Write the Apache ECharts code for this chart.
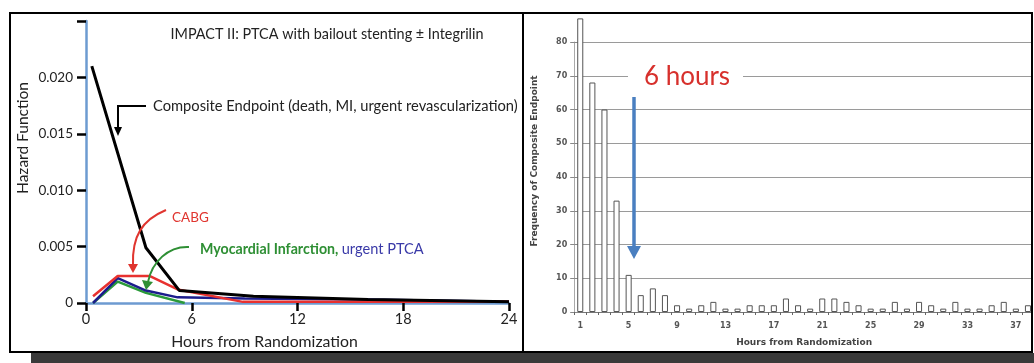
<!DOCTYPE html>
<html><head><meta charset="utf-8">
<script src="https://cdn.jsdelivr.net/npm/echarts@6/dist/echarts.min.js"></script>
<style>html,body{margin:0;padding:0;background:#fff}#c{width:1034px;height:363px}</style>
</head><body><div id="c"></div>
<script>
// ---- Left panel: hazard function curves ----
const compositeHours  = [0.33, 3.4, 5.3, 9.5, 16, 24];
const compositeHazard = [0.021, 0.0049, 0.0011, 0.0006, 0.0003, 0.0001];
const cabgHours  = [0.4, 1.8, 3.6, 5.2, 8.9, 24];
const cabgHazard = [0.0006, 0.0024, 0.0024, 0.0012, 0.0001, 0.0001];
const miHours  = [0.4, 1.8, 3.4, 5.6];
const miHazard = [0, 0.0019, 0.0009, 0];
const ptcaHours  = [0.4, 1.8, 3.4, 5.2, 9, 16, 24];
const ptcaHazard = [0, 0.0022, 0.0011, 0.0005, 0.0004, 0.0003, 0.0001];

// ---- Right panel: frequency histogram ----
const freqHours = ['1','2','3','4','5','6','7','8','9','10','11','12','13','14','15','16','17','18','19','20',
  '21','22','23','24','25','26','27','28','29','30','31','32','33','34','35','36','37','38'];
const freqCounts = [87,68,60,33,11,5,7,5,2,1,2,3,1,1,2,2,2,4,2,1,4,4,3,2,1,1,3,1,3,2,1,3,1,1,2,3,1,2];

const pairs = (xs, ys) => xs.map((x, i) => [x, ys[i]]);
const chart = echarts.init(document.getElementById('c'), null, {renderer: 'canvas'});

const smallFont = 'DejaVu Sans';
const option = {
  animation: false,
  backgroundColor: '#fff',
  title: {
    text: 'IMPACT II: PTCA with bailout stenting \u00B1 Integrilin',
    left: 327, top: 27, textAlign: 'center', padding: 0,
    textStyle: {fontSize: 14.4, fontWeight: 'normal', fontFamily: 'Lato', color: '#222'}
  },
  grid: [
    {left: 86, top: 21, width: 423, height: 282},
    {left: 574.2, top: 42, width: 460.6, height: 270}
  ],
  xAxis: [
    {
      type: 'value', gridIndex: 0, min: 0, max: 24, interval: 6,
      axisLine: {show: true, lineStyle: {color: '#6d9bd1', width: 2.5}},
      axisTick: {show: true, length: 8, lineStyle: {color: '#000', width: 2.5}},
      axisLabel: {fontSize: 14.5, color: '#222', fontFamily: 'Lato', margin: 9},
      splitLine: {show: false},
      name: 'Hours from Randomization', nameLocation: 'middle', nameGap: 31,
      nameTextStyle: {fontSize: 15.8, color: '#222', fontFamily: 'Lato', padding: [0, 66, 0, 0]}
    },
    {
      type: 'category', gridIndex: 1, data: freqHours,
      axisLine: {show: true, lineStyle: {color: '#777', width: 1}},
      axisTick: {show: true, interval: 0, length: 3, lineStyle: {color: '#666'}},
      axisLabel: {interval: 3, fontSize: 8, fontWeight: 'bold', color: '#555', fontFamily: smallFont, margin: 10},
      splitLine: {show: false},
      name: 'Hours from Randomization', nameLocation: 'middle', nameGap: 26,
      nameTextStyle: {fontSize: 9, fontWeight: 'bold', color: '#444', fontFamily: smallFont}
    },
    {
      type: 'category', gridIndex: 1, data: freqHours,
      axisLine: {show: false},
      axisTick: {show: true, inside: true, interval: 0, length: 3, lineStyle: {color: '#666'}},
      axisLabel: {show: false}, splitLine: {show: false}
    }
  ],
  yAxis: [
    {
      type: 'value', gridIndex: 0, min: 0, max: 0.025, interval: 0.005,
      axisLine: {show: true, lineStyle: {color: '#6d9bd1', width: 2.5}},
      axisTick: {show: true, length: 9, lineStyle: {color: '#000', width: 2.5}},
      axisLabel: {
        fontSize: 13.5, color: '#222', fontFamily: 'Lato', margin: 13,
        formatter: v => v === 0 ? '0' : (v > 0.0249 ? '' : v.toFixed(3))
      },
      splitLine: {show: false},
      name: 'Hazard Function', nameLocation: 'middle', nameGap: 55,
      nameTextStyle: {fontSize: 15.5, color: '#222', fontFamily: 'Lato', padding: [0, 0, 0, 48]}
    },
    {
      type: 'value', gridIndex: 1, min: 0, max: 80, interval: 10,
      axisLine: {show: true, lineStyle: {color: '#aaa', width: 1}},
      axisTick: {show: true, length: 4, lineStyle: {color: '#888'}},
      axisLabel: {fontSize: 8, fontWeight: 'bold', color: '#555', fontFamily: smallFont, margin: 7},
      splitLine: {show: true, lineStyle: {color: '#9a9a9a', width: 1}},
      name: 'Frequency of Composite Endpoint', nameLocation: 'middle', nameGap: 35,
      nameTextStyle: {fontSize: 9, fontWeight: 'bold', color: '#444', fontFamily: smallFont, padding: [0, 0, 0, 32]}
    },
    {
      type: 'value', gridIndex: 1, min: 0, max: 80, interval: 10, position: 'left',
      axisLine: {show: false},
      axisTick: {show: true, inside: true, length: 4, lineStyle: {color: '#888'}},
      axisLabel: {show: false}, splitLine: {show: false}
    }
  ],
  series: [
    {type: 'line', name: 'Myocardial Infarction', xAxisIndex: 0, yAxisIndex: 0, data: pairs(miHours, miHazard),
      showSymbol: false, lineStyle: {color: '#2a9a3a', width: 2.5}, itemStyle: {color: '#2a9a3a'}, z: 3},
    {type: 'line', name: 'urgent PTCA', xAxisIndex: 0, yAxisIndex: 0, data: pairs(ptcaHours, ptcaHazard),
      showSymbol: false, lineStyle: {color: '#1c1c8c', width: 2.5}, itemStyle: {color: '#1c1c8c'}, z: 4},
    {type: 'line', name: 'CABG', xAxisIndex: 0, yAxisIndex: 0, data: pairs(cabgHours, cabgHazard),
      showSymbol: false, lineStyle: {color: '#e8312f', width: 2.5}, itemStyle: {color: '#e8312f'}, z: 5},
    {type: 'line', name: 'Composite Endpoint', xAxisIndex: 0, yAxisIndex: 0, data: pairs(compositeHours, compositeHazard),
      showSymbol: false, lineStyle: {color: '#000', width: 3}, itemStyle: {color: '#000'}, z: 6},
    {type: 'bar', name: 'Frequency', xAxisIndex: 1, yAxisIndex: 1, data: freqCounts, barWidth: '50%', clip: false,
      itemStyle: {color: '#fff', borderColor: '#555', borderWidth: 1}}
  ],
  graphic: [
    // panel frames and bottom band
    {type: 'rect', z: 100, shape: {x: 1033, y: 0, width: 3, height: 353}, style: {fill: '#fff'}},
    {type: 'rect', z: 101, shape: {x: 10, y: 13, width: 1022, height: 339}, style: {fill: null, stroke: '#000', lineWidth: 2}},
    {type: 'line', z: 101, shape: {x1: 523, y1: 13, x2: 523, y2: 352}, style: {stroke: '#000', lineWidth: 2}},
    {type: 'rect', z: 101, shape: {x: 31, y: 353, width: 1003, height: 10}, style: {fill: '#3a3a3a'}},
    // left panel annotations
    {type: 'text', z: 50, style: {text: 'Composite Endpoint (death, MI, urgent revascularization)', x: 153, y: 106,
      font: '14.7px Lato', fill: '#222', verticalAlign: 'middle'}},
    {type: 'polyline', z: 50, shape: {points: [[146, 106], [118, 106], [118, 128]]}, style: {stroke: '#000', lineWidth: 2, fill: null}},
    {type: 'polygon', z: 50, shape: {points: [[114, 127], [122, 127], [118, 136]]}, style: {fill: '#000'}},
    {type: 'text', z: 50, style: {text: 'CABG', x: 172, y: 218, font: '13.5px Lato', fill: '#e0352f', verticalAlign: 'middle'}},
    {type: 'bezierCurve', z: 50, shape: {x1: 166, y1: 210, cpx1: 142, cpy1: 220, cpx2: 132, cpy2: 236, x2: 133, y2: 265},
      style: {stroke: '#e0352f', lineWidth: 2, fill: null}},
    {type: 'polygon', z: 50, shape: {points: [[128, 264], [138, 264], [133, 273]]}, style: {fill: '#e0352f'}},
    {type: 'text', z: 50, style: {text: '{g|Myocardial Infarction,} {b|urgent PTCA}', x: 200, y: 249, verticalAlign: 'middle',
      rich: {g: {fill: '#2e8f34', fontSize: 14.2, fontWeight: 'bold', fontFamily: 'Lato'},
             b: {fill: '#3a3aa8', fontSize: 14.6, fontFamily: 'Lato'}}}},
    {type: 'bezierCurve', z: 50, shape: {x1: 189, y1: 247, cpx1: 168, cpy1: 246, cpx2: 152, cpy2: 262, x2: 148, y2: 282},
      style: {stroke: '#2e8f34', lineWidth: 2, fill: null}},
    {type: 'polygon', z: 50, shape: {points: [[142, 280], [153, 282], [146, 290]]}, style: {fill: '#2e8f34'}},
    // right panel annotations
    {type: 'rect', z: 40, shape: {x: 628, y: 63, width: 115, height: 28}, style: {fill: '#fff'}},
    {type: 'text', z: 50, style: {text: '6 hours', x: 687, y: 77, font: '26px Lato', fill: '#d7302c', align: 'center', verticalAlign: 'middle'}},
    {type: 'line', z: 50, shape: {x1: 634, y1: 97, x2: 634, y2: 250}, style: {stroke: '#4a7fc0', lineWidth: 3.5}},
    {type: 'polygon', z: 50, shape: {points: [[627, 246], [641, 246], [634, 259]]}, style: {fill: '#4a7fc0'}}
  ]
};
chart.setOption(option);
</script></body></html>
